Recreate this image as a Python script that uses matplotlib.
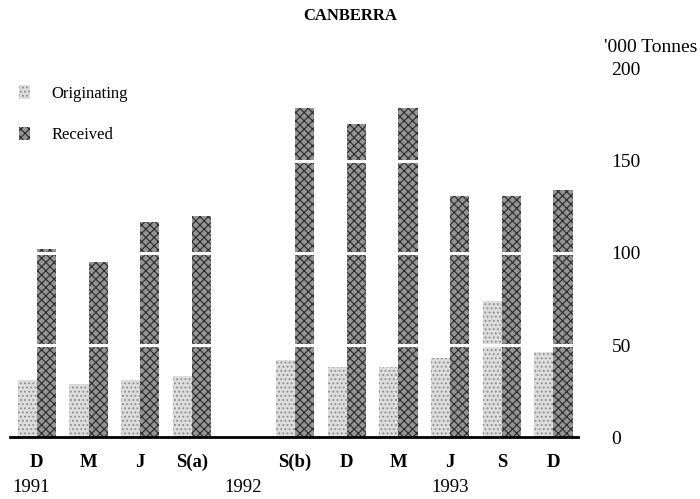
import numpy as np
import matplotlib
matplotlib.use('Agg')
import matplotlib.pyplot as plt

# quarters, with an empty slot between S(a) and S(b)
quarters = ['D', 'M', 'J', 'S(a)', '', 'S(b)', 'D', 'M', 'J', 'S', 'D']
years = ['1991', '1992', '1993']
originating = [31, 29, 31, 33, np.nan, 42, 38, 38, 43, 74, 46]
received = [102, 95, 117, 120, np.nan, 179, 170, 179, 131, 131, 134]

plt.rcParams['font.family'] = ['Liberation Serif', 'DejaVu Serif']
plt.rcParams['hatch.linewidth'] = 0.8

fig = plt.figure(figsize=(7.0, 4.99), dpi=100)
ax = fig.add_axes([0.0143, 0.124, 0.8117, 0.738])

x = np.arange(len(quarters))
w = 0.37
b1 = ax.bar(x - w / 2, originating, w, color='#dcdcdc', edgecolor='#8a8a8a',
            hatch='....', linewidth=0, label='Originating', zorder=2)
b2 = ax.bar(x + w / 2, received, w, color='#949494', edgecolor='#2a2a2a',
            hatch='xxxx', linewidth=0, label='Received', zorder=2)

# white breaks across the bars
for v in [50, 100, 150]:
    ax.axhline(v, color='white', lw=2.2, zorder=3)

ax.set_xlim(-0.52, 10.48)
ax.set_ylim(0, 200)

for s in ['top', 'left', 'right']:
    ax.spines[s].set_visible(False)
ax.spines['bottom'].set_linewidth(2)
ax.spines['bottom'].set_zorder(4)

ax.yaxis.tick_right()
ax.set_yticks([0, 50, 100, 150, 200])
ax.tick_params(axis='y', length=0, pad=24, labelsize=14)
ax.set_xticks(x)
ax.set_xticklabels(quarters, fontweight='bold')
ax.tick_params(axis='x', length=0, pad=12, labelsize=13.5)

ax.text(1.046, 1.035, "'000 Tonnes", transform=ax.transAxes, fontsize=14,
        ha='left', va='bottom')
fig.text(0.5, 0.967, 'CANBERRA', ha='center', va='center', fontsize=12,
         fontweight='bold')

# year labels under the quarters
trans = ax.get_xaxis_transform()
for xp, yr in zip([-0.12, 4, 8], years):
    ax.text(xp, -0.137, yr, transform=trans, ha='center', va='center',
            fontsize=13.5)

ax.legend(loc='upper left', bbox_to_anchor=(0.005, 0.86), bbox_transform=fig.transFigure,
          frameon=False, fontsize=12, handlelength=0.7, handleheight=0.9,
          handletextpad=1.3, labelspacing=1.5)

fig.savefig('out.png', dpi=100)
